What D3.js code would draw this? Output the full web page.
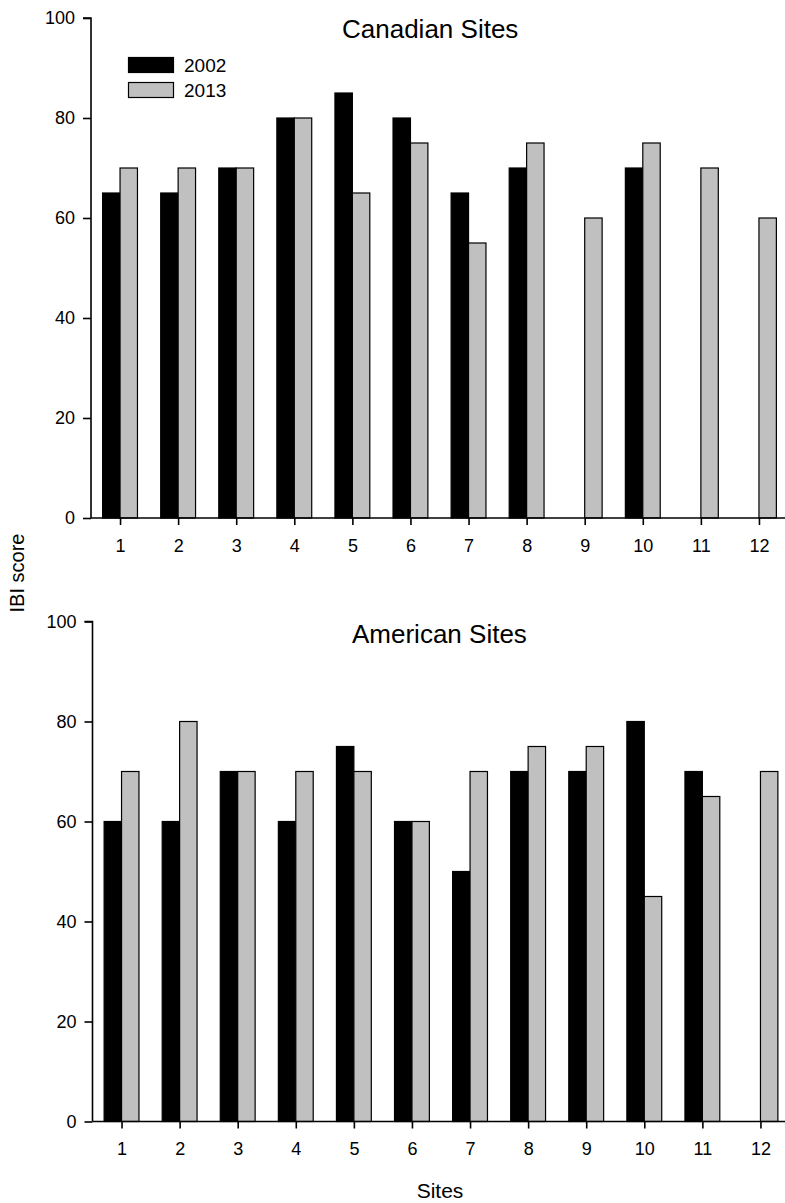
<!DOCTYPE html>
<html>
<head>
<meta charset="utf-8">
<script src="https://cdn.jsdelivr.net/npm/d3@7"></script>
<style>
  html, body { margin: 0; padding: 0; background: #fff; }
  svg { display: block; font-family: "Liberation Sans", Arial, sans-serif; }
</style>
</head>
<body>
<svg id="chart" width="785" height="1203"></svg>
<script>
// Sites along the x axis
const sites = [1, 2, 3, 4, 5, 6, 7, 8, 9, 10, 11, 12];
const years = ["2002", "2013"];
const yTicks = [0, 20, 40, 60, 80, 100];

// IBI scores per site; null = site not sampled that year
const canadian2002 = [65, 65, 70, 80, 85, 80, 65, 70, null, 70, null, null];
const canadian2013 = [70, 70, 70, 80, 65, 75, 55, 75, 60, 75, 70, 60];
const american2002 = [60, 60, 70, 60, 75, 60, 50, 70, 70, 80, 70, null];
const american2013 = [70, 80, 70, 70, 70, 60, 70, 75, 75, 45, 65, 70];

const yearColors = ["#000000", "#c0c0c0"];

const svg = d3.select("#chart");

function drawPanel(cfg) {
  const x = d3.scaleLinear().domain([0.5, 12.5]).range([cfg.left, cfg.right]);
  const y = d3.scaleLinear().domain([0, 100]).range([cfg.bottom, cfg.top]);
  const step = x(2) - x(1);
  const barW = step * 0.3;

  const g = svg.append("g");

  // bars: 2002 on the left of the tick, 2013 on the right
  cfg.series.forEach((vals, si) => {
    g.append("g").selectAll("rect")
      .data(sites.map((s, i) => ({ site: s, v: vals[i] })).filter(d => d.v != null))
      .join("rect")
      .attr("x", d => x(d.site) - barW + si * barW)
      .attr("y", d => y(d.v))
      .attr("width", barW)
      .attr("height", d => y(0) - y(d.v))
      .attr("fill", yearColors[si])
      .attr("stroke", "#000")
      .attr("stroke-width", 1.2);
  });

  // y axis
  const yAxis = d3.axisLeft(y).tickValues(yTicks).tickSize(8).tickPadding(8).tickFormat(d3.format("d"));
  const ya = g.append("g").attr("transform", `translate(${cfg.left},0)`).call(yAxis);
  ya.select(".domain").attr("d", `M-8,${y(100)}H0V${y(0)}`).attr("stroke-width", 1.6);
  ya.selectAll(".tick line").attr("stroke-width", 1.6);
  ya.selectAll(".tick text").attr("font-size", 18).attr("fill", "#000")
    .attr("font-family", "Liberation Sans, Arial, sans-serif");

  // x axis
  const xAxis = d3.axisBottom(x).tickValues(sites).tickSize(7).tickPadding(14).tickFormat(d3.format("d"));
  const xa = g.append("g").attr("transform", `translate(0,${cfg.bottom})`).call(xAxis);
  xa.select(".domain").attr("d", `M${cfg.left},0H${cfg.right}`).attr("stroke-width", 1.6);
  xa.selectAll(".tick line").attr("stroke-width", 1.6);
  xa.selectAll(".tick text").attr("font-size", 18).attr("fill", "#000")
    .attr("font-family", "Liberation Sans, Arial, sans-serif");

  // panel title
  g.append("text")
    .attr("x", cfg.titleX)
    .attr("y", cfg.titleY)
    .attr("font-size", 26)
    .attr("fill", "#000")
    .text(cfg.title);

  return { x, y };
}

drawPanel({
  left: 91, right: 788, top: 18, bottom: 518,
  series: [canadian2002, canadian2013],
  title: "Canadian Sites", titleX: 342, titleY: 38
});

drawPanel({
  left: 92.5, right: 789.5, top: 621.5, bottom: 1121.5,
  series: [american2002, american2013],
  title: "American Sites", titleX: 352, titleY: 643
});

// legend
const legend = svg.append("g");
years.forEach((yr, i) => {
  legend.append("rect")
    .attr("x", 128.5).attr("y", 57.5 + i * 25)
    .attr("width", 45).attr("height", 15)
    .attr("fill", yearColors[i]).attr("stroke", "#000").attr("stroke-width", 1.2);
  legend.append("text")
    .attr("x", 184).attr("y", 72 + i * 24.5)
    .attr("font-size", 19).attr("fill", "#000")
    .text(yr);
});

// shared axis titles
svg.append("text")
  .attr("transform", "translate(24,573) rotate(-90)")
  .attr("text-anchor", "middle")
  .attr("font-size", 20)
  .attr("fill", "#000")
  .text("IBI score");

svg.append("text")
  .attr("x", 440).attr("y", 1198)
  .attr("text-anchor", "middle")
  .attr("font-size", 21)
  .attr("fill", "#000")
  .text("Sites");
</script>
</body>
</html>
